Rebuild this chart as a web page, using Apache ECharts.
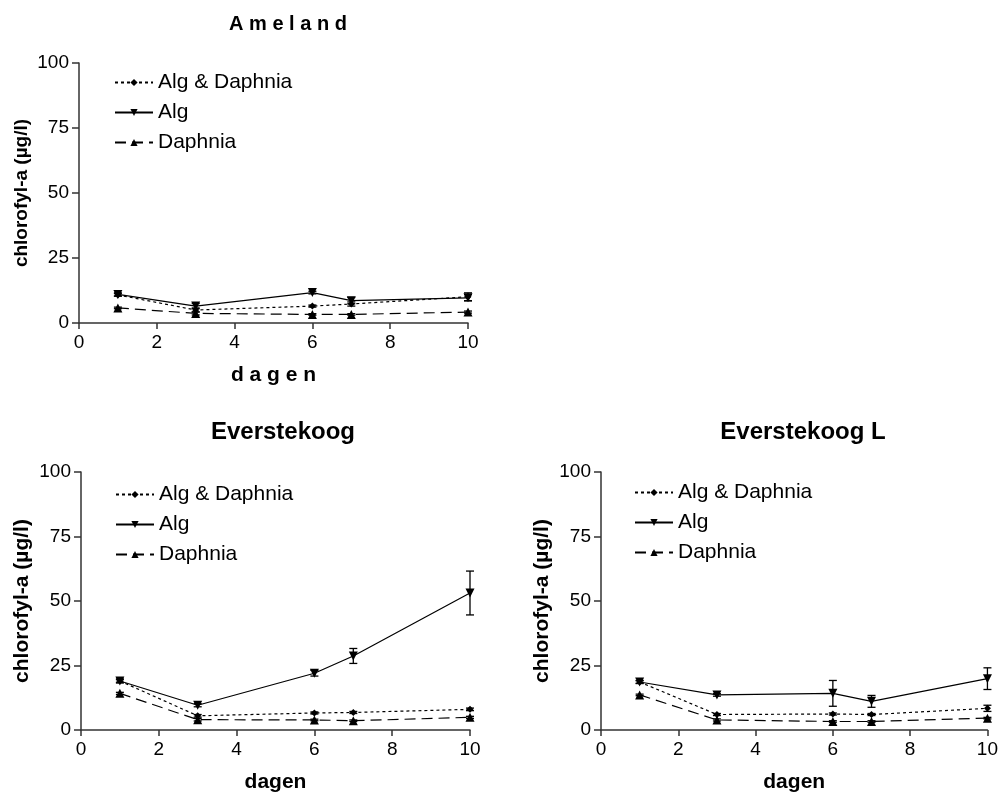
<!DOCTYPE html>
<html lang="nl">
<head>
<meta charset="UTF-8">
<title>chlorofyl-a</title>
<script src="https://cdn.jsdelivr.net/npm/echarts@6/dist/echarts.min.js"></script>
<style>
  body { margin: 0; padding: 0; background: #fff; }
  #chart { width: 1001px; height: 794px; }
</style>
</head>
<body>
<div id="chart"></div>
<script>
// meetdagen
const days = [1, 3, 6, 7, 10];

// Ameland
const amelandAlgDaphnia = [10.8, 5.0, 6.5, 7.3, 10.1];
const amelandAlg = [11.0, 6.5, 11.7, 8.6, 9.7];
const amelandDaphnia = [5.8, 3.7, 3.3, 3.3, 4.2];
const amelandAlgDaphniaErr = [0.5, 0.8, 0.4, 0.8, 1.5];
const amelandAlgErr = [0.6, 1.0, 0.5, 1.2, 1.2];
const amelandDaphniaErr = [0.3, 0.6, 0.3, 0.3, 0.4];

// Everstekoog
const everAlgDaphnia = [19.0, 5.5, 6.6, 6.8, 8.0];
const everAlg = [19.0, 9.6, 22.0, 28.7, 53.1];
const everDaphnia = [14.2, 4.0, 3.9, 3.6, 4.9];
const everAlgDaphniaErr = [0.5, 0.5, 0.4, 0.4, 0.5];
const everAlgErr = [0.8, 0.6, 1.1, 2.9, 8.5];
const everDaphniaErr = [0.4, 0.5, 0.3, 0.3, 0.4];

// Everstekoog L
const everLAlgDaphnia = [18.6, 6.0, 6.2, 6.0, 8.4];
const everLAlg = [18.6, 13.6, 14.2, 11.1, 19.9];
const everLDaphnia = [13.6, 3.9, 3.3, 3.3, 4.6];
const everLAlgDaphniaErr = [0.5, 0.4, 0.4, 0.4, 1.2];
const everLAlgErr = [0.6, 0.5, 5.0, 2.3, 4.2];
const everLDaphniaErr = [0.3, 0.4, 0.3, 0.3, 0.3];

const seriesNames = ['Alg & Daphnia', 'Alg', 'Daphnia'];
const xTicks = [0, 2, 4, 6, 8, 10];
const yTicks = [0, 25, 50, 75, 100];

const FONT = 'Liberation Sans, Arial, sans-serif';
const AXIS_COLOR = '#333';

const panels = [
  {
    title: 'A m e l a n d', xName: 'd a g e n', yName: 'chlorofyl-a (µg/l)',
    titleSize: 20,
    grid: { left: 79, right: 533, top: 63, bottom: 471 },
    titlePos: { left: 283, top: 9 },
    legendPos: { left: 109, top: 67 },
    values: [amelandAlgDaphnia, amelandAlg, amelandDaphnia],
    errors: [amelandAlgDaphniaErr, amelandAlgErr, amelandDaphniaErr]
  },
  {
    title: 'Everstekoog', xName: 'dagen', yName: 'chlorofyl-a (µg/l)',
    titleSize: 24,
    grid: { left: 81, right: 531, top: 472, bottom: 63 },
    titlePos: { left: 278, top: 415 },
    legendPos: { left: 110, top: 479 },
    values: [everAlgDaphnia, everAlg, everDaphnia],
    errors: [everAlgDaphniaErr, everAlgErr, everDaphniaErr]
  },
  {
    title: 'Everstekoog L', xName: 'dagen', yName: 'chlorofyl-a (µg/l)',
    titleSize: 24,
    grid: { left: 601, right: 12, top: 472, bottom: 63 },
    titlePos: { left: 798, top: 415 },
    legendPos: { left: 629, top: 477 },
    values: [everLAlgDaphnia, everLAlg, everLDaphnia],
    errors: [everLAlgDaphniaErr, everLAlgErr, everLDaphniaErr]
  }
];

const styles = [
  { symbol: 'diamond', symbolSize: 7, symbolRotate: 0, lineType: [3, 3] },
  { symbol: 'triangle', symbolSize: 9, symbolRotate: 180, lineType: 'solid' },
  { symbol: 'triangle', symbolSize: 9, symbolRotate: 0, lineType: [11, 6] }
];

function errorBarItem(params, api) {
  const x = api.value(0);
  const lo = api.coord([x, api.value(1)]);
  const hi = api.coord([x, api.value(2)]);
  const cap = 4;
  const style = { stroke: '#000', lineWidth: 1.3 };
  return {
    type: 'group',
    children: [
      { type: 'line', shape: { x1: lo[0], y1: lo[1], x2: hi[0], y2: hi[1] }, style },
      { type: 'line', shape: { x1: lo[0] - cap, y1: lo[1], x2: lo[0] + cap, y2: lo[1] }, style },
      { type: 'line', shape: { x1: hi[0] - cap, y1: hi[1], x2: hi[0] + cap, y2: hi[1] }, style }
    ]
  };
}

const option = {
  backgroundColor: '#fff',
  animation: false,
  title: [],
  legend: [],
  grid: [],
  xAxis: [],
  yAxis: [],
  series: []
};

panels.forEach((p, i) => {
  option.title.push({
    text: p.title,
    left: p.titlePos.left,
    top: p.titlePos.top,
    textAlign: 'center',
    textStyle: { fontFamily: FONT, fontSize: p.titleSize, fontWeight: 'bold', color: '#000' }
  });
  option.legend.push({
    orient: 'vertical',
    left: p.legendPos.left,
    top: p.legendPos.top,
    itemWidth: 38,
    itemHeight: 9,
    itemGap: 9,
    data: seriesNames,
    selectedMode: false,
    textStyle: { fontFamily: FONT, fontSize: 21, color: '#000' }
  });
  option.grid.push(p.grid);
  option.xAxis.push({
    gridIndex: i,
    type: 'value',
    min: 0, max: 10, interval: 2,
    name: p.xName,
    nameLocation: 'middle',
    nameGap: 42,
    nameTextStyle: { fontFamily: FONT, fontSize: 21, fontWeight: 'bold', color: '#000' },
    axisLine: { lineStyle: { color: AXIS_COLOR, width: 1.5 } },
    axisTick: { show: true, length: 6, lineStyle: { color: AXIS_COLOR, width: 1.5 } },
    axisLabel: {
      fontFamily: FONT, fontSize: 19, color: '#000', margin: 10,
      formatter: v => (xTicks.includes(v) ? String(v) : '')
    },
    splitLine: { show: false }
  });
  option.yAxis.push({
    gridIndex: i,
    type: 'value',
    min: 0, max: 100, interval: 25,
    name: p.yName,
    nameLocation: 'middle',
    nameGap: 48,
    nameTextStyle: { fontFamily: FONT, fontSize: i === 0 ? 19 : 21, fontWeight: 'bold', color: '#000' },
    axisLine: { show: true, lineStyle: { color: AXIS_COLOR, width: 1.5 } },
    axisTick: { show: true, length: 7, lineStyle: { color: AXIS_COLOR, width: 1.5 } },
    axisLabel: {
      fontFamily: FONT, fontSize: 19, color: '#000', margin: 10,
      formatter: v => (yTicks.includes(v) ? String(v) : '')
    },
    splitLine: { show: false }
  });

  seriesNames.forEach((name, k) => {
    const st = styles[k];
    option.series.push({
      name: name,
      type: 'line',
      xAxisIndex: i,
      yAxisIndex: i,
      data: days.map((d, j) => [d, p.values[k][j]]),
      symbol: st.symbol,
      symbolSize: st.symbolSize,
      symbolRotate: st.symbolRotate,
      showAllSymbol: true,
      color: '#000',
      itemStyle: { color: '#000' },
      lineStyle: { color: '#000', width: 1.2, type: st.lineType },
      z: 3
    });
    option.series.push({
      type: 'custom',
      xAxisIndex: i,
      yAxisIndex: i,
      renderItem: errorBarItem,
      data: days.map((d, j) => [d, p.values[k][j] - p.errors[k][j], p.values[k][j] + p.errors[k][j]]),
      encode: { x: 0, y: [1, 2] },
      silent: true,
      z: 2
    });
  });
});

const chart = echarts.init(document.getElementById('chart'));
chart.setOption(option);
</script>
</body>
</html>
